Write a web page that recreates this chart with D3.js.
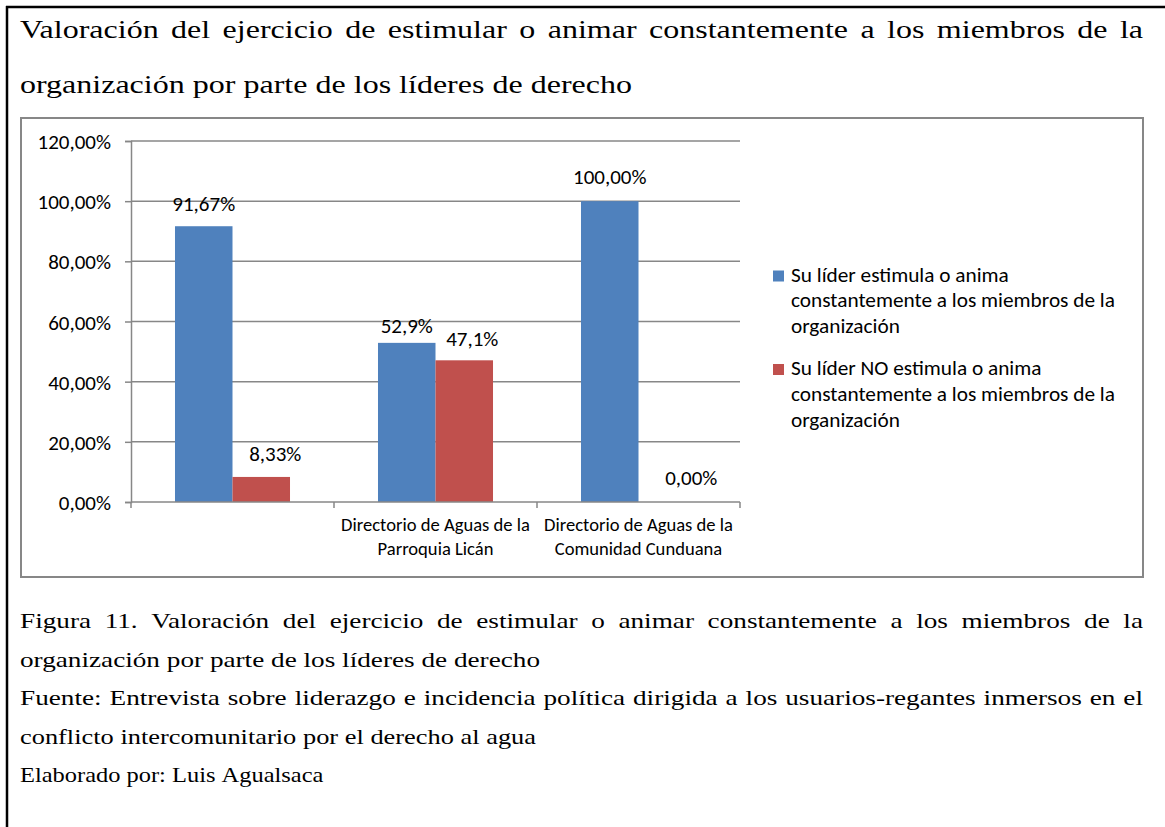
<!DOCTYPE html>
<html><head><meta charset="utf-8">
<script src="https://cdn.jsdelivr.net/npm/d3@7"></script>
<style>body{margin:0;background:#fff} svg{display:block}</style>
</head><body><svg id="c" width="1165" height="827"></svg>
<script>
// ---------- data ----------
const categories = ["", "Directorio de Aguas de la|Parroquia Licán", "Directorio de Aguas de la|Comunidad Cunduana"];
const seriesNames = [
  "Su líder estimula o anima constantemente a los miembros de la organización",
  "Su líder NO estimula o anima constantemente a los miembros de la organización"
];
const legendLines = [
  ["Su líder estimula o anima", "constantemente a los miembros de la", "organización"],
  ["Su líder NO estimula o anima", "constantemente a los miembros de la", "organización"]
];
const estimula = [91.67, 52.9, 100];
const noEstimula = [8.33, 47.1, 0];
const valueLabels = [["91,67%", "52,9%", "100,00%"], ["8,33%", "47,1%", "0,00%"]];
const yTicks = [0, 20, 40, 60, 80, 100, 120];
const yTickLabels = ["0,00%", "20,00%", "40,00%", "60,00%", "80,00%", "100,00%", "120,00%"];
const titleLines = [
  "Valoración del ejercicio de estimular o animar constantemente a los miembros de la",
  "organización por parte de los líderes de derecho"
];
const captionLines = [
  "Figura 11. Valoración del ejercicio de estimular o animar constantemente a los miembros de la",
  "organización por parte de los líderes de derecho",
  "Fuente: Entrevista sobre liderazgo e incidencia política dirigida a los usuarios-regantes inmersos en el",
  "conflicto intercomunitario por el derecho al agua",
  "Elaborado por: Luis Agualsaca"
];

// ---------- layout / style ----------
const colors = ["#4F81BD", "#C0504D"];
const grid = "#878787";
const sans = "Carlito, Calibri, Lato, sans-serif";
const serif = "'Times New Roman', 'Liberation Serif', Tinos, Times, serif";
const labelNudge = [[[0, -15], [0, -10], [0, -17]], [[14, -16], [8, -14], [24, -17]]];
// right edge of each serif line (justified lines span the full text width)
const titleEnds = [1143, 632];
const captionEnds = [1143, 540, 1143, 536, 322];

const svg = d3.select("#c");
const probe = svg.append("text").attr("x", -9999).attr("y", -9999);
function tw(text, size, fam) {
  probe.style("font-family", fam).attr("font-size", size).style("white-space", "pre").text(text);
  return probe.node().getComputedTextLength();
}
function fit(text, target, fam) { return 100 * target / tw(text, 100, fam); }

const tickSize = fit("100,00%", 73.5, sans);
const legSize = fit("constantemente a los miembros de la", 324, sans);
const catSize = fit("Directorio de Aguas de la", 189, sans);

// page border (black, cut off at right/bottom)
svg.append("line").attr("x1", 7).attr("x2", 7).attr("y1", 6).attr("y2", 827).attr("stroke", "#000").attr("stroke-width", 2.5);
svg.append("line").attr("x1", 6).attr("x2", 1165).attr("y1", 7).attr("y2", 7).attr("stroke", "#000").attr("stroke-width", 2.5);

// serif text blocks
function serifBlock(lines, size, baselines, justified, ends, refIdx) {
  const left = 20;
  const baseSx = (ends[refIdx] - left) / tw(lines[refIdx], size, serif);
  lines.forEach((line, i) => {
    const sx = justified[i] ? baseSx : (ends[i] - left) / tw(line, size, serif);
    const spaceW = (tw("a a", size, serif) - tw("aa", size, serif)) * sx;
    const words = line.split(" ");
    const widths = words.map(w => tw(w, size, serif) * sx);
    const sum = d3.sum(widths);
    const gap = justified[i] ? (ends[i] - left - sum) / (words.length - 1) : spaceW;
    let x = left;
    const g = svg.append("g");
    words.forEach((w, k) => {
      g.append("text").attr("transform", `translate(${x},${baselines[i]}) scale(${sx},1)`)
        .style("font-family", serif).attr("font-size", size).attr("fill", "#000").text(w);
      x += widths[k] + gap;
    });
  });
}
serifBlock(titleLines, 26, [38, 93], [true, false], titleEnds, 1);
serifBlock(captionLines, 22, [628, 667, 705, 744, 782], [true, false, true, false, false], captionEnds, 1);

// chart frame
svg.append("rect").attr("x", 21).attr("y", 118).attr("width", 1122).attr("height", 459)
  .attr("fill", "#fff").attr("stroke", grid).attr("stroke-width", 2);

// scales
const x0 = d3.scaleBand().domain(d3.range(categories.length)).range([131, 740]).paddingInner(0).paddingOuter(0);
const x1 = d3.scaleBand().domain([0, 1]).range([0, x0.bandwidth()]).paddingInner(0).paddingOuter(0.765);
const y = d3.scaleLinear().domain([0, 120]).range([502, 141]);

// gridlines
svg.append("g").selectAll("line").data(yTicks.filter(t => t > 0)).join("line")
  .attr("x1", 131).attr("x2", 740).attr("y1", d => y(d)).attr("y2", d => y(d))
  .attr("stroke", grid).attr("stroke-width", 1.5);

// y axis
const yAxis = svg.append("g").attr("transform", "translate(131,0)")
  .call(d3.axisLeft(y).tickValues(yTicks).tickSize(6).tickPadding(14).tickFormat((d, i) => yTickLabels[i]));
yAxis.select(".domain").attr("stroke", grid).attr("stroke-width", 1.5);
yAxis.selectAll(".tick line").attr("stroke", grid).attr("stroke-width", 1.5);
yAxis.selectAll(".tick text").attr("font-family", sans).attr("font-size", tickSize).attr("fill", "#000").attr("dy", "0.36em");

// bars
const series = [estimula, noEstimula];
series.forEach((vals, s) => {
  svg.append("g").selectAll("rect").data(vals).join("rect")
    .attr("x", (d, i) => x0(i) + x1(s)).attr("width", x1.bandwidth())
    .attr("y", d => y(d)).attr("height", d => y(0) - y(d)).attr("fill", colors[s]);
  svg.append("g").selectAll("text").data(vals).join("text")
    .attr("x", (d, i) => x0(i) + x1(s) + x1.bandwidth() / 2 + labelNudge[s][i][0])
    .attr("y", (d, i) => y(d) + labelNudge[s][i][1])
    .attr("text-anchor", "middle").attr("font-family", sans).attr("font-size", tickSize).attr("fill", "#000")
    .text((d, i) => valueLabels[s][i]);
});

// x axis
const xAxis = svg.append("g").attr("transform", "translate(0,502)");
xAxis.append("line").attr("x1", 131).attr("x2", 740).attr("stroke", grid).attr("stroke-width", 1.5);
const bounds = categories.map((c, i) => x0(i)).concat([x0(categories.length - 1) + x0.bandwidth()]);
xAxis.selectAll("line.t").data(bounds).join("line").attr("class", "t")
  .attr("x1", d => d).attr("x2", d => d).attr("y1", 0).attr("y2", 6).attr("stroke", grid).attr("stroke-width", 1.5);
categories.forEach((c, i) => {
  if (!c) return;
  const t = xAxis.append("text").attr("text-anchor", "middle").attr("font-family", sans).attr("font-size", catSize).attr("fill", "#000");
  c.split("|").forEach((ln, k) => t.append("tspan").attr("x", x0(i) + x0.bandwidth() / 2).attr("y", 29 + k * 24).text(ln));
});

// legend
const legTop = [281.5, 375];
legendLines.forEach((lines, s) => {
  svg.append("rect").attr("x", 773).attr("y", legTop[s] - 11).attr("width", 11).attr("height", 11).attr("fill", colors[s]);
  lines.forEach((ln, k) => svg.append("text").attr("x", 791).attr("y", legTop[s] + k * 25.8)
    .attr("font-family", sans).attr("font-size", legSize).attr("fill", "#000").text(ln));
});
probe.remove();
</script>
</body></html>
